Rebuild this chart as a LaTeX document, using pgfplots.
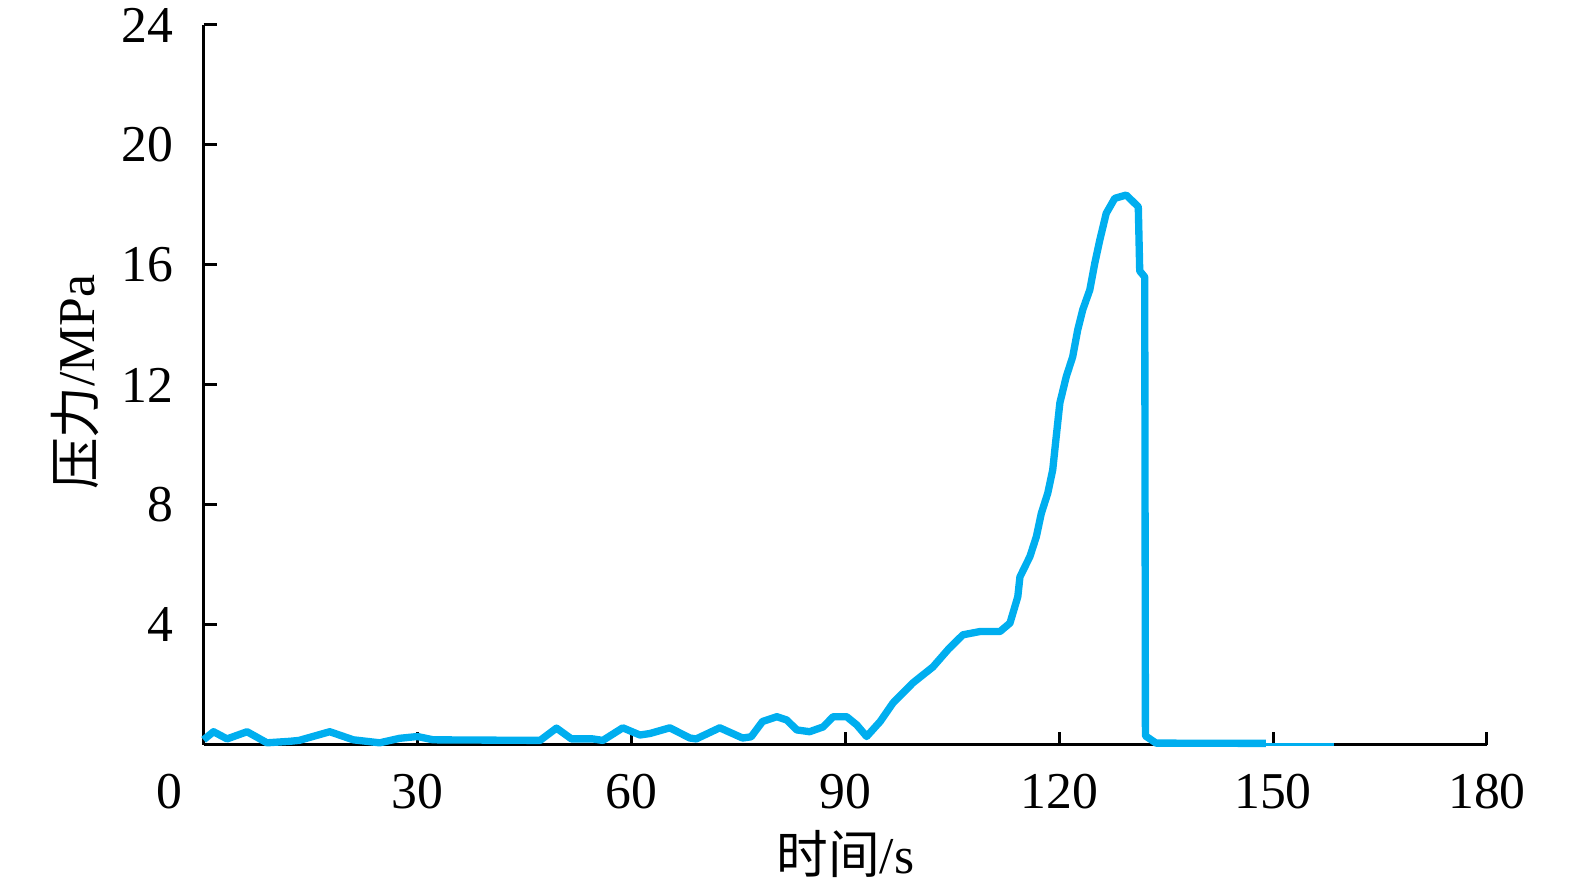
\documentclass[border=0pt]{standalone}
\usepackage{pgfplots}
\pgfplotsset{compat=1.18}
\usepackage{fontspec}
\setmainfont{Liberation Serif}
\newfontfamily\cjk{Noto Sans CJK SC}
\definecolor{lineblue}{RGB}{0,174,239}
\begin{document}
\fontsize{15.5}{18}\selectfont
\begin{tikzpicture}
\begin{axis}[
  scale only axis,
  width=385.05pt, height=216pt,
  xmin=0, xmax=180, ymin=0, ymax=24,
  xtick={30,60,...,180}, ytick={4,8,...,24},
  axis x line*=bottom, axis y line*=left,
  axis line style={line width=0.9pt, black},
  every tick/.style={line width=0.9pt, black},
  tick align=inside, major tick length=4pt,
  /pgf/number format/assume math mode=true,
  xticklabel style={anchor=base, yshift=-19.2pt, inner sep=0pt},
  yticklabel style={anchor=east, xshift=-9pt, inner sep=0pt},
  ticklabel style={font=\fontsize{15.5}{18}\selectfont},
  xlabel={{\cjk 时间}/s},
  ylabel={{\cjk 压力}/MPa},
  label style={font=\fontsize{15.5}{18}\selectfont, inner sep=0pt},
  xlabel style={at={(rel axis cs:0.5,-0.151)}, anchor=center},
  ylabel style={at={(rel axis cs:-0.100,0.504)}, anchor=center, rotate=0},
  clip=false,
]
\addplot[lineblue, line width=2.2pt, line join=round, no markers] coordinates {
(0,0.17)(1.4,0.44)(3.3,0.2)(6.1,0.44)(8.9,0.07)(12.1,0.12)(13.4,0.15)(17.7,0.44)(21,0.17)(24.7,0.07)(27.5,0.22)(30,0.28)(32.2,0.17)(47.2,0.15)(49.5,0.56)(51.6,0.2)(54.6,0.2)(56,0.15)(58.8,0.57)(61.2,0.33)(62.6,0.38)(65.4,0.57)(68.2,0.23)(69.1,0.2)(72.4,0.57)(75.6,0.23)(76.8,0.27)(78.4,0.78)(80.4,0.94)(81.8,0.83)(83.2,0.5)(85,0.44)(86.9,0.6)(88.3,0.94)(90.2,0.94)(91.6,0.67)(93,0.28)(94.9,0.78)(96.7,1.4)(99.5,2.07)(102.3,2.6)(104.5,3.2)(106.5,3.67)(108.9,3.78)(111.7,3.78)(113.1,4.06)(114.2,4.94)(114.5,5.6)(115.9,6.28)(116.8,6.94)(117.5,7.72)(118.4,8.39)(119.1,9.17)(119.6,10.3)(120.1,11.4)(121.0,12.28)(121.9,12.94)(122.6,13.83)(123.3,14.5)(124.3,15.17)(125.0,16.06)(125.7,16.83)(126.6,17.72)(127.8,18.22)(129.4,18.33)(131.1,17.94)(131.3,15.8)(132.0,15.6)(132.1,0.3)(133.6,0.06)(149,0.05)
};
\addplot[lineblue, line width=0.9pt, no markers] coordinates {(149,0.0)(158.5,0.0)};
\node[anchor=base, yshift=-19.2pt, inner sep=0pt] at (axis cs:-4.84,0) {0};
\path (rel axis cs:-0.1586,-0.1986) rectangle (rel axis cs:1.0686,1.0347);
\end{axis}
\end{tikzpicture}
\end{document}
